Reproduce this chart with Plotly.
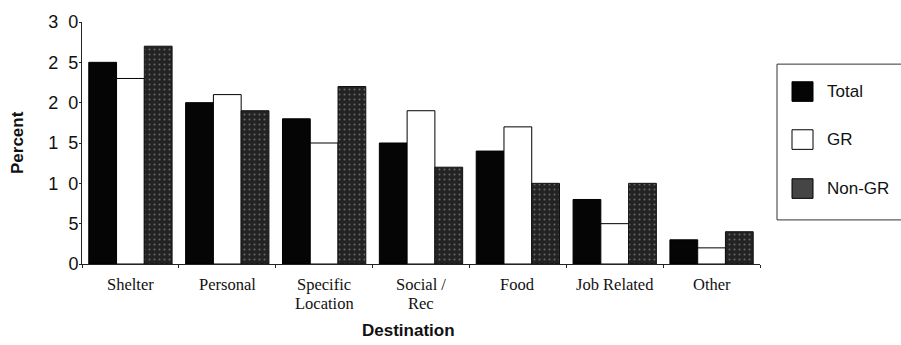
import plotly.graph_objects as go

# Trip destinations, percent of respondents by group
categories = ["Shelter", "Personal", "Specific Location", "Social / Rec",
              "Food", "Job Related", "Other"]
# how each category label is broken onto lines under the axis
label_lines = [["Shelter"], ["Personal"], ["Specific", "Location"], ["Social /", "Rec"],
               ["Food"], ["Job Related"], ["Other"]]
series_names = ["Total", "GR", "Non-GR"]
total = [25, 20, 18, 15, 14, 8, 3]
gr = [23, 21, 15, 19, 17, 5, 2]
non_gr = [27, 19, 22, 12, 10, 10, 4]
y_ticks = [0, 5, 10, 15, 20, 25, 30]

# plot-area geometry in pixels
W, H = 901, 345
L, R, T, B = 82, 760, 17, 264

def px_x(p):
    return (p - L) / (R - L)

def px_y(p):
    return (B - p) / (B - T)

fig = go.Figure()
fig.add_trace(go.Bar(name=series_names[0], x=categories, y=total,
                     marker=dict(color="#050505", line=dict(color="#000", width=1))))
fig.add_trace(go.Bar(name=series_names[1], x=categories, y=gr,
                     marker=dict(color="#ffffff", line=dict(color="#000", width=1))))
fig.add_trace(go.Bar(name=series_names[2], x=categories, y=non_gr,
                     marker=dict(color="#2a2a2a", line=dict(color="#111", width=1),
                                 pattern=dict(shape=".", bgcolor="#232323",
                                              fgcolor="#a8a8a8", size=5,
                                              solidity=0.14))))

sans = "Liberation Sans, Arial, sans-serif"
serif = "Liberation Serif, Times New Roman, serif"

fig.update_layout(
    width=W, height=H,
    margin=dict(l=L, r=W - R, t=T, b=H - B),
    paper_bgcolor="white", plot_bgcolor="white",
    barmode="group", bargap=0.14, bargroupgap=0,
    showlegend=False,
    font=dict(family=sans, color="#111"),
)
fig.update_xaxes(
    type="category", showline=True, linecolor="#222", linewidth=1,
    showgrid=False, ticks="outside", tickson="boundaries", ticklen=3,
    tickcolor="#222", showticklabels=False,
)
fig.update_yaxes(
    range=[0, 30], showline=True, linecolor="#222", linewidth=1,
    showgrid=False, zeroline=False, ticks="outside", ticklen=2,
    tickcolor="#222", tickvals=y_ticks,
    ticktext=["\u2007".join(str(v)) for v in y_ticks],
    tickfont=dict(family=sans, size=18, color="#111"),
    ticklabelstandoff=-3,
)

annotations = [
    dict(text="<b>Percent</b>", textangle=-90, x=px_x(17), y=px_y(140.5),
         xref="paper", yref="paper", xanchor="center", yanchor="middle",
         showarrow=False, font=dict(family=sans, size=17, color="#111")),
    dict(text="<b>Destination</b>", x=px_x(408), y=px_y(332),
         xref="paper", yref="paper", xanchor="center", yanchor="middle",
         showarrow=False, font=dict(family=sans, size=17, color="#111")),
]

# category labels, one annotation per line, centred on each category
for cat, lines in zip(categories, label_lines):
    for i, line in enumerate(lines):
        annotations.append(dict(text=line, x=cat, xref="x",
                                y=px_y(285 + 19 * i), yref="paper",
                                xanchor="center", yanchor="middle", showarrow=False,
                                font=dict(family=serif, size=16.5, color="#111")))

# legend box with large swatches
shapes = [dict(type="rect", xref="paper", yref="paper",
               x0=px_x(777), x1=px_x(915), y0=px_y(60), y1=px_y(219),
               line=dict(color="#333", width=1), fillcolor="white")]
swatch_fill = ["#050505", "#ffffff", "#454545"]
swatch_top = [78, 127, 177]
for name, fill, top in zip(series_names, swatch_fill, swatch_top):
    shapes.append(dict(type="rect", xref="paper", yref="paper",
                       x0=px_x(792), x1=px_x(813), y0=px_y(top + 20), y1=px_y(top),
                       line=dict(color="#000", width=1), fillcolor=fill))
    annotations.append(dict(text=name, x=px_x(825), y=px_y(top + 10),
                            xref="paper", yref="paper", xanchor="left",
                            yanchor="middle", showarrow=False,
                            font=dict(family=sans, size=17, color="#111")))

fig.update_layout(shapes=shapes, annotations=annotations)
fig.write_html("out.html")
